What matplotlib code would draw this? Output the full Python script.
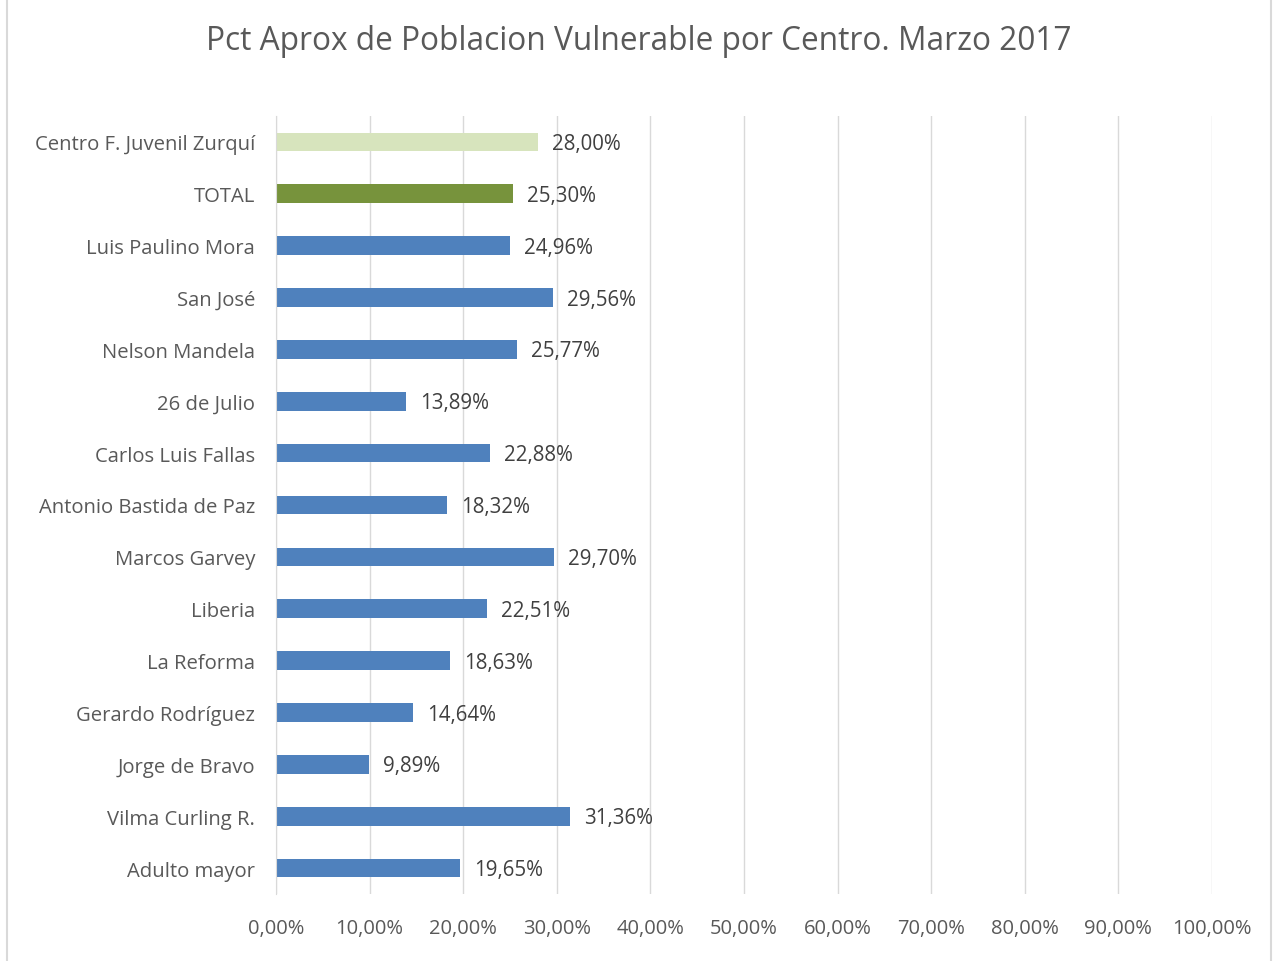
import matplotlib
matplotlib.use("Agg")
import matplotlib.pyplot as plt
from matplotlib.patches import Rectangle

categories = ["Centro F. Juvenil Zurquí", "TOTAL", "Luis Paulino Mora", "San José",
              "Nelson Mandela", "26 de Julio", "Carlos Luis Fallas", "Antonio Bastida de Paz",
              "Marcos Garvey", "Liberia", "La Reforma", "Gerardo Rodríguez",
              "Jorge de Bravo", "Vilma Curling R.", "Adulto mayor"]
values = [28.00, 25.30, 24.96, 29.56, 25.77, 13.89, 22.88, 18.32, 29.70, 22.51,
          18.63, 14.64, 9.89, 31.36, 19.65]
bar_colors = ["#d7e4bd", "#77933c"] + ["#4f81bd"] * 13
xticks = [0, 10, 20, 30, 40, 50, 60, 70, 80, 90, 100]
title = "Pct Aprox de Poblacion Vulnerable por Centro. Marzo 2017"

plt.rcParams['font.family'] = ['Open Sans', 'DejaVu Sans']
W, H = 1278, 962
fig = plt.figure(figsize=(W / 100, H / 100), dpi=100)
left, right, top, bottom = 276, 1212, 117, 895
ax = fig.add_axes([left / W, 1 - bottom / H, (right - left) / W, (bottom - top) / H])

n = len(categories)
ypos = list(range(n))
ax.barh(ypos, values, height=0.36, color=bar_colors, zorder=3)
ax.set_ylim(n - 0.5, -0.5)
ax.set_xlim(0, 100)
ax.set_yticks(ypos)
ax.set_yticklabels(categories, fontsize=14.6, color="#595959")
ax.set_xticks(xticks)
ax.set_xticklabels([f"{t:.2f}%".replace(".", ",") for t in xticks], fontsize=14.5, color="#595959")
ax.tick_params(axis="both", length=0)
ax.tick_params(axis="y", pad=15)
ax.tick_params(axis="x", pad=17)
ax.grid(axis="x", color="#d9d9d9", linewidth=1, zorder=0)
for s in ["top", "right", "bottom"]:
    ax.spines[s].set_visible(False)
ax.spines["left"].set_color("#d9d9d9")
ax.spines["left"].set_zorder(4)

for y, v in zip(ypos, values):
    ax.text(v + 1.5, y + 0.03, f"{v:.2f}%".replace(".", ","), va="center", ha="left",
            fontsize=14.8, color="#404040", zorder=5)

fig.text(0.5, 1 - 41 / H, title, ha="center", va="center", fontsize=22.8, color="#595959")
fig.patches.append(Rectangle((7 / W, -0.01), (1271 - 7) / W, 1.02, transform=fig.transFigure,
                             fill=False, edgecolor="#d9d9d9", linewidth=1.5))
fig.savefig("out.png", dpi=100, facecolor="white")
